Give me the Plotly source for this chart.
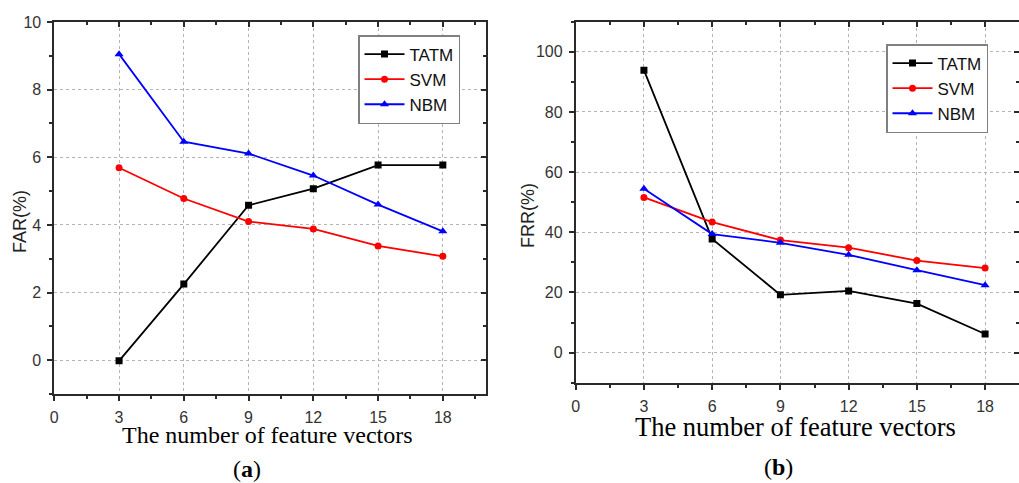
import plotly.graph_objects as go

x_vals = [3, 6, 9, 12, 15, 18]
x_ticks = [0, 3, 6, 9, 12, 15, 18]

far_tatm = [-0.02, 2.25, 4.58, 5.07, 5.77, 5.77]
far_svm = [5.69, 4.78, 4.10, 3.88, 3.38, 3.07]
far_nbm = [9.05, 6.46, 6.11, 5.46, 4.60, 3.81]

frr_tatm = [93.9, 37.8, 19.2, 20.5, 16.3, 6.2]
frr_svm = [51.6, 43.4, 37.4, 34.9, 30.6, 28.1]
frr_nbm = [54.5, 39.4, 36.5, 32.5, 27.4, 22.4]

series_names = ["TATM", "SVM", "NBM"]
colors = {"TATM": "#000000", "SVM": "#ff0000", "NBM": "#0000ff"}
symbols = {"TATM": "square", "SVM": "circle", "NBM": "triangle-up"}
msize = {"TATM": 7, "SVM": 7, "NBM": 8}

W, H = 1019, 483
AX = "#2a2a2a"
GRID = "#b4b4b4"
SANS = "Liberation Sans, Arial, sans-serif"
SERIF = "Liberation Serif, Times New Roman, serif"

fig = go.Figure()

for name, ys in zip(series_names, [far_tatm, far_svm, far_nbm]):
    fig.add_trace(go.Scatter(
        x=x_vals, y=ys, name=name, mode="lines+markers",
        line=dict(color=colors[name], width=1.8),
        marker=dict(symbol=symbols[name], size=msize[name], color=colors[name]),
        xaxis="x", yaxis="y", legend="legend"))

for name, ys in zip(series_names, [frr_tatm, frr_svm, frr_nbm]):
    fig.add_trace(go.Scatter(
        x=x_vals, y=ys, name=name, mode="lines+markers",
        line=dict(color=colors[name], width=1.8),
        marker=dict(symbol=symbols[name], size=msize[name], color=colors[name]),
        xaxis="x2", yaxis="y2", legend="legend2"))

# dummy traces to materialise the mirrored (inside-tick) axes
fig.add_trace(go.Scatter(x=[None], y=[None], xaxis="x3", yaxis="y3",
                         showlegend=False, hoverinfo="skip"))
fig.add_trace(go.Scatter(x=[None], y=[None], xaxis="x4", yaxis="y4",
                         showlegend=False, hoverinfo="skip"))

L_dom_x = [54.3 / W, 486 / W]
L_dom_y = [1 - 394 / H, 1 - 22 / H]
R_dom_x = [575.7 / W, 1.0]
R_dom_y = [1 - 382.7 / H, 1 - 21.7 / H]

tickfont = dict(family=SANS, size=16, color="#333333")


def xbase(dom, rng, anchor):
    return dict(domain=dom, range=rng, anchor=anchor, tickmode="array",
                tickvals=x_ticks, ticktext=[str(v) for v in x_ticks],
                ticks="outside", ticklen=5, tickwidth=1.5, tickcolor=AX,
                minor=dict(ticks="outside", ticklen=3, tickwidth=1.5,
                           tickcolor=AX, dtick=1.5, tick0=0, showgrid=False),
                showline=True, linecolor=AX, linewidth=1.8,
                showgrid=True, gridcolor=GRID, griddash="dot", gridwidth=1,
                zeroline=False, tickfont=tickfont, ticklabelstandoff=3,
                automargin=False)


def ybase(dom, rng, anchor, dt, mdt):
    return dict(domain=dom, range=rng, anchor=anchor, tick0=0, dtick=dt,
                ticks="outside", ticklen=5, tickwidth=1.5, tickcolor=AX,
                minor=dict(ticks="outside", ticklen=3, tickwidth=1.5,
                           tickcolor=AX, dtick=mdt, tick0=0, showgrid=False),
                showline=True, linecolor=AX, linewidth=1.8,
                showgrid=True, gridcolor=GRID, griddash="dot", gridwidth=1,
                zeroline=False, tickfont=tickfont, ticklabelstandoff=3,
                automargin=False)


def xtop(over, rng, anchor):
    return dict(overlaying=over, side="top", range=rng, anchor=anchor,
                tickmode="array", tickvals=x_ticks, showticklabels=False,
                ticks="inside", ticklen=5, tickwidth=1.5, tickcolor=AX,
                minor=dict(ticks="inside", ticklen=3, tickwidth=1.5,
                           tickcolor=AX, dtick=1.5, tick0=0, showgrid=False),
                showline=True, linecolor=AX, linewidth=1.8,
                showgrid=False, zeroline=False, automargin=False)


def yright(over, rng, anchor, dt, mdt):
    return dict(overlaying=over, side="right", range=rng, anchor=anchor,
                tick0=0, dtick=dt, showticklabels=False,
                ticks="inside", ticklen=5, tickwidth=1.5, tickcolor=AX,
                minor=dict(ticks="inside", ticklen=3, tickwidth=1.5,
                           tickcolor=AX, dtick=mdt, tick0=0, showgrid=False),
                showline=True, linecolor=AX, linewidth=1.8,
                showgrid=False, zeroline=False, automargin=False)


legend_common = dict(xanchor="left", yanchor="top", bgcolor="white",
                     bordercolor="#808080", borderwidth=1.5,
                     font=dict(family=SANS, size=17, color="#111111"),
                     itemwidth=40, tracegroupgap=0)


def ann(text, x, y, size, family=SERIF, angle=0, color="#000000"):
    return dict(text=text, x=x / W, y=1 - y / H, xref="paper", yref="paper",
                xanchor="center", yanchor="middle", showarrow=False,
                textangle=angle, font=dict(family=family, size=size, color=color))


fig.update_layout(
    width=W, height=H,
    margin=dict(l=0, r=0, t=0, b=0, autoexpand=False),
    paper_bgcolor="white", plot_bgcolor="white",
    xaxis=xbase(L_dom_x, [0, 20], "y"),
    yaxis=ybase(L_dom_y, [-1, 10], "x", 2, 1),
    xaxis2=xbase(R_dom_x, [0, 19.49], "y2"),
    yaxis2=ybase(R_dom_y, [-10, 110], "x2", 20, 10),
    xaxis3=xtop("x", [0, 20], "y"),
    yaxis3=yright("y", [-1, 10], "x", 2, 1),
    xaxis4=xtop("x2", [0, 19.49], "y2"),
    yaxis4=yright("y2", [-10, 110], "x2", 20, 10),
    legend=dict(x=358 / W, y=1 - 35 / H, **legend_common),
    legend2=dict(x=886 / W, y=1 - 44 / H, **legend_common),
    annotations=[
        ann("The number of feature vectors", 267, 435, 24),
        ann("The number of feature vectors", 795, 427, 26.5),
        ann("(<b>a</b>)", 247, 469, 24),
        ann("(<b>b</b>)", 778, 467, 24),
        ann("FAR(%)", 20, 222, 18, SANS, -90, "#222222"),
        ann("FRR(%)", 528, 216, 18, SANS, -90, "#222222"),
    ],
)

fig.write_html("out.html",
               config={"displayModeBar": False},
               post_script="document.body.style.margin='0';"
                           "document.body.style.overflow='hidden';")
